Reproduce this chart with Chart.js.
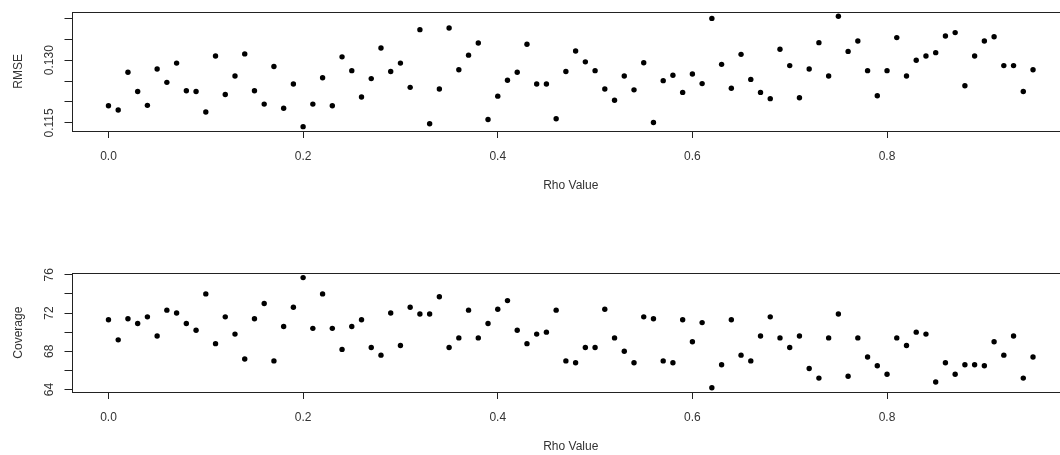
<!DOCTYPE html>
<html>
<head>
<meta charset="utf-8">
<script src="https://cdn.jsdelivr.net/npm/chart.js@4.4.1/dist/chart.umd.min.js"></script>
<style>
  html, body { margin: 0; padding: 0; background: #fff; overflow: hidden; }
  #wrap { position: relative; width: 1060px; height: 455px; overflow: hidden; }
  .panel { position: absolute; left: 0; width: 1080px; }
  #top { top: 0; height: 228px; }
  #bottom { top: 240px; height: 215px; }
</style>
</head>
<body>
<div id="wrap">
  <div class="panel" id="top"><canvas id="rmseChart"></canvas></div>
  <div class="panel" id="bottom"><canvas id="covChart"></canvas></div>
</div>
<script>
const rho = [0.00,0.01,0.02,0.03,0.04,0.05,0.06,0.07,0.08,0.09,
  0.10,0.11,0.12,0.13,0.14,0.15,0.16,0.17,0.18,0.19,
  0.20,0.21,0.22,0.23,0.24,0.25,0.26,0.27,0.28,0.29,
  0.30,0.31,0.32,0.33,0.34,0.35,0.36,0.37,0.38,0.39,
  0.40,0.41,0.42,0.43,0.44,0.45,0.46,0.47,0.48,0.49,
  0.50,0.51,0.52,0.53,0.54,0.55,0.56,0.57,0.58,0.59,
  0.60,0.61,0.62,0.63,0.64,0.65,0.66,0.67,0.68,0.69,
  0.70,0.71,0.72,0.73,0.74,0.75,0.76,0.77,0.78,0.79,
  0.80,0.81,0.82,0.83,0.84,0.85,0.86,0.87,0.88,0.89,
  0.90,0.91,0.92,0.93,0.94,0.95];

const rmse = [0.1191,0.1181,0.1271,0.1225,0.1192,0.1279,0.1247,0.1293,0.1227,0.1225,
  0.1176,0.1310,0.1218,0.1262,0.1315,0.1227,0.1195,0.1285,0.1185,0.1243,
  0.1141,0.1195,0.1258,0.1191,0.1308,0.1275,0.1212,0.1256,0.1329,0.1273,
  0.1293,0.1235,0.1373,0.1148,0.1231,0.1377,0.1277,0.1312,0.1341,0.1158,
  0.1214,0.1252,0.1271,0.1338,0.1243,0.1243,0.1160,0.1273,0.1322,0.1296,
  0.1275,0.1231,0.1204,0.1262,0.1229,0.1294,0.1151,0.1251,0.1264,0.1223,
  0.1267,0.1244,0.1400,0.1290,0.1233,0.1314,0.1254,0.1223,0.1208,0.1326,
  0.1287,0.1210,0.1279,0.1342,0.1262,0.1405,0.1321,0.1346,0.1275,0.1215,
  0.1275,0.1354,0.1262,0.1300,0.1310,0.1318,0.1358,0.1366,0.1239,0.1310,
  0.1346,0.1356,0.1287,0.1287,0.1225,0.1277];

const coverage = [71.3,69.2,71.4,70.9,71.6,69.6,72.3,72.0,70.9,70.2,
  74.0,68.8,71.6,69.8,67.2,71.4,73.0,67.0,70.6,72.6,
  75.7,70.4,74.0,70.4,68.2,70.6,71.3,68.4,67.6,72.0,
  68.6,72.6,71.9,71.9,73.7,68.4,69.4,72.3,69.4,70.9,
  72.4,73.3,70.2,68.8,69.8,70.0,72.3,67.0,66.8,68.4,
  68.4,72.4,69.4,68.0,66.8,71.6,71.4,67.0,66.8,71.3,
  69.0,71.0,64.2,66.6,71.3,67.6,67.0,69.6,71.6,69.4,
  68.4,69.6,66.2,65.2,69.4,71.9,65.4,69.4,67.4,66.5,
  65.6,69.4,68.6,70.0,69.8,64.8,66.8,65.6,66.6,66.6,
  66.5,69.0,67.6,69.6,65.2,67.4];

const xTicks = [0, 0.2, 0.4, 0.6, 0.8];
const rmseTicks = [0.115, 0.120, 0.125, 0.130, 0.135, 0.140];
const rmseLabels = [0.115, 0.130];
const covTicks = [64, 66, 68, 70, 72, 74, 76];
const covLabels = [64, 68, 72, 76];

const FONT = "'Liberation Sans', Arial, sans-serif";
const INK = "#222";
const TEXT = "#333";

// box around plot region + rotated y labels (R style)
const rStyle = {
  id: "rStyle",
  afterDraw(chart, args, opts) {
    const ctx = chart.ctx;
    const a = chart.chartArea;
    const y = chart.scales.y;
    ctx.save();
    ctx.strokeStyle = INK;
    ctx.lineWidth = 1;
    ctx.strokeRect(Math.round(a.left) + 0.5, Math.round(a.top) + 0.5,
      Math.round(a.right - a.left), Math.round(a.bottom - a.top));
    ctx.fillStyle = TEXT;
    ctx.font = "12px " + FONT;
    ctx.textAlign = "center";
    ctx.textBaseline = "middle";
    opts.labels.forEach(v => {
      ctx.save();
      ctx.translate(49.5, y.getPixelForValue(v));
      ctx.rotate(-Math.PI / 2);
      ctx.fillText(opts.fmt(v), 0, 0);
      ctx.restore();
    });
    ctx.restore();
  }
};

function makeChart(id, values, yTicks, yLabels, yMin, yMax, yTitle, fmt, lay) {
  const pts = rho.map((r, i) => ({ x: r, y: values[i] }));
  return new Chart(document.getElementById(id), {
    type: "scatter",
    data: {
      datasets: [{
        data: pts,
        pointRadius: 2.7,
        pointHoverRadius: 2.7,
        backgroundColor: "#000",
        borderColor: "#000",
        borderWidth: 0
      }]
    },
    plugins: [rStyle],
    options: {
      responsive: true,
      maintainAspectRatio: false,
      animation: false,
      events: [],
      layout: { padding: { left: 0, top: lay.top, right: 10, bottom: 0 } },
      plugins: {
        legend: { display: false },
        tooltip: { enabled: false },
        rStyle: { labels: yLabels, fmt: fmt }
      },
      scales: {
        x: {
          type: "linear",
          min: -0.038,
          max: 0.988,
          afterBuildTicks: s => { s.ticks = xTicks.map(v => ({ value: v })); },
          afterFit: s => { s.height = lay.xh; },
          grid: { drawOnChartArea: false, drawTicks: true, tickLength: 7, color: INK },
          border: { display: false },
          ticks: {
            padding: 11,
            color: TEXT,
            font: { family: FONT, size: 12 },
            maxRotation: 0,
            callback: v => v.toFixed(1)
          },
          title: {
            display: true,
            text: "Rho Value",
            color: TEXT,
            font: { family: FONT, size: 12 },
            padding: { top: 0, bottom: lay.tb }
          }
        },
        y: {
          type: "linear",
          min: yMin,
          max: yMax,
          afterBuildTicks: s => { s.ticks = yTicks.map(v => ({ value: v })); },
          afterFit: s => { s.width = 71.5; },
          grid: { drawOnChartArea: false, drawTicks: true, tickLength: 7, color: INK },
          border: { display: false },
          ticks: { display: false },
          title: {
            display: true,
            text: yTitle,
            color: TEXT,
            font: { family: FONT, size: 12 },
            padding: { top: 11.8, bottom: 0 }
          }
        }
      }
    }
  });
}

makeChart("rmseChart", rmse, rmseTicks, rmseLabels, 0.11306, 0.1416, "RMSE",
  v => v.toFixed(3), { top: 11.7, xh: 97, tb: 35 });
makeChart("covChart", coverage, covTicks, covLabels, 63.75, 76.15, "Coverage",
  v => String(v), { top: 33.3, xh: 63, tb: 1 });
</script>
</body>
</html>
